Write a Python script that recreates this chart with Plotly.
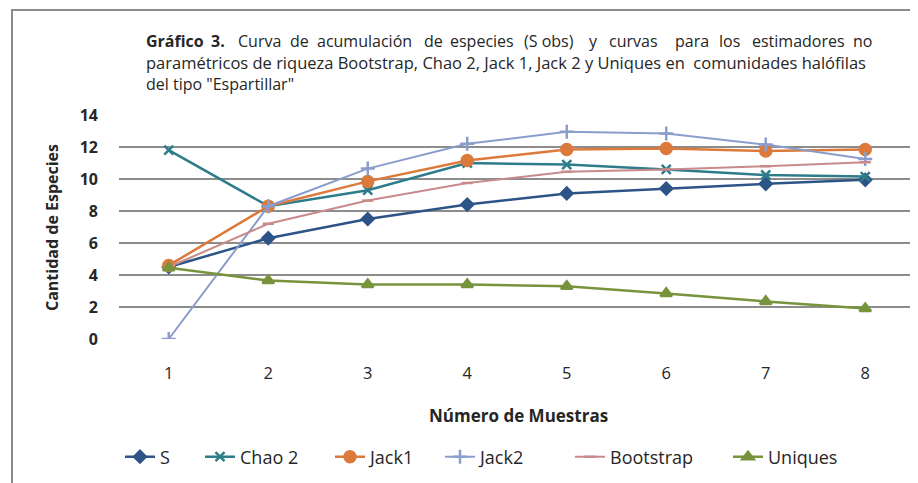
import plotly.graph_objects as go

muestras = [1, 2, 3, 4, 5, 6, 7, 8]
s_obs = [4.5, 6.3, 7.5, 8.4, 9.1, 9.4, 9.7, 9.95]
chao2 = [11.8, 8.3, 9.3, 11.0, 10.9, 10.6, 10.25, 10.15]
jack1 = [4.6, 8.3, 9.85, 11.15, 11.85, 11.9, 11.75, 11.85]
jack2 = [0.0, 8.3, 10.65, 12.2, 12.95, 12.85, 12.15, 11.25]
bootstrap = [4.5, 7.2, 8.65, 9.75, 10.45, 10.6, 10.8, 11.05]
uniques = [4.45, 3.65, 3.4, 3.4, 3.3, 2.85, 2.35, 1.9]

y_ticks = [0, 2, 4, 6, 8, 10, 12, 14]

series_names = ["S", "Chao 2", "Jack1", "Jack2", "Bootstrap", "Uniques"]
series_values = [s_obs, chao2, jack1, jack2, bootstrap, uniques]

# styles (not data)
styles = [
    ("#2D5487", "diamond", 9, 2.5),
    ("#2E7C8A", "x-thin-open", 9, 2.5),
    ("#DC7A3C", "circle", 11, 2.5),
    ("#8A9DCB", "cross-thin-open", 10, 2),
    ("#C88A8A", "line-ew-open", 8, 2),
    ("#77933C", "triangle-up", 10, 2.5),
]

# page offset (default body margin) and plot area in screen pixels
OFF = 8
FW, FH = 918 - OFF, 483 - OFF
L, R, T, B = 119, 915, 115, 339
W, H = R - L, B - T


def px(x):
    return (x - L) / W


def py(y):
    return (B - y) / H


legend_text_x = [160, 240, 370, 480, 610, 768]
legend_y = 457

TXT = "#262626"
FONT = "Open Sans"

fig = go.Figure()
layout_legends = {}
for i, (name, vals, st) in enumerate(zip(series_names, series_values, styles)):
    color, sym, size, lw = st
    lg = "legend" if i == 0 else f"legend{i + 1}"
    fig.add_trace(go.Scatter(
        x=muestras, y=vals, name=name, mode="lines+markers",
        line=dict(color=color, width=lw),
        marker=dict(symbol=sym, size=size, color=color,
                    line=dict(color=color, width=2.5)),
        legend=lg,
    ))
    layout_legends[lg] = dict(
        x=px(legend_text_x[i] - 40), xanchor="left", y=py(legend_y), yanchor="middle",
        bgcolor="rgba(0,0,0,0)", borderwidth=0,
        font=dict(size=18, color=TXT, family=FONT),
    )

# title line 1 is justified in the original: words placed individually
line1 = [
    ("<b>Gráfico</b>", 145, "left"), ("<b>3.</b>", 210, "left"), ("Curva", 237, "left"),
    ("de", 289, "left"), ("acumulación", 316, "left"), ("de", 423, "left"),
    ("especies", 449, "left"), ("(S obs)", 523, "left"), ("y", 588, "left"),
    ("curvas", 608, "left"), ("para", 674, "left"), ("los", 718, "left"),
    ("estimadores", 751, "left"), ("no", 873, "right"),
]
line2 = "paramétricos de riqueza Bootstrap, Chao 2, Jack 1, Jack 2 y Uniques en&nbsp; comunidades halófilas"
line3 = "del tipo \"Espartillar\""

annotations = []
for w, x, anc in line1:
    annotations.append(dict(xref="paper", yref="paper", x=px(x), y=py(41),
                            xanchor=anc, yanchor="middle", showarrow=False, text=w,
                            xshift=-1 if anc == "left" else 1,
                            font=dict(size=16, color=TXT, family=FONT)))
annotations.append(dict(xref="paper", yref="paper", x=px(145), y=py(72.5),
                        xanchor="left", yanchor="middle", align="left", showarrow=False,
                        text=f"<span style='font-size:16.5px'>{line2}</span><br>{line3}",
                        xshift=-1, font=dict(size=16, color=TXT, family=FONT)))
annotations.append(dict(xref="paper", yref="paper", x=px(518), y=py(415),
                        xanchor="center", yanchor="middle", showarrow=False,
                        text="<b>Número de Muestras</b>",
                        font=dict(size=17, color=TXT, family=FONT)))
annotations.append(dict(xref="paper", yref="paper", x=px(52), y=py(228),
                        xanchor="center", yanchor="middle", showarrow=False, textangle=-90,
                        text="<b>Cantidad de Especies</b>",
                        font=dict(size=16, color=TXT, family=FONT)))

fig.update_layout(
    width=FW, height=FH,
    margin=dict(l=L - OFF, r=FW - (R - OFF), t=T - OFF, b=FH - (B - OFF)),
    paper_bgcolor="white", plot_bgcolor="white",
    font=dict(family=FONT, color=TXT, size=13),
    showlegend=True,
    xaxis=dict(range=[0.5, 8.5], tickvals=muestras, showgrid=False, zeroline=False,
               showline=False, ticks="", ticklabelstandoff=22,
               tickfont=dict(size=16.5, color=TXT)),
    yaxis=dict(range=[0, 14], tickvals=y_ticks, showgrid=True, gridcolor="#8C8C8C",
               gridwidth=1.8, zeroline=False, showline=False, ticks="",
               ticklabelstandoff=20,
               tickfont=dict(size=16, color=TXT, weight="bold")),
    shapes=[dict(type="rect", xref="paper", yref="paper",
                 x0=px(12), x1=1.2, y0=-1.0, y1=py(10),
                 line=dict(color="#8C8C8C", width=2), fillcolor="rgba(0,0,0,0)", layer="below")],
    annotations=annotations,
    **layout_legends,
)

fig.write_html("out.html")
